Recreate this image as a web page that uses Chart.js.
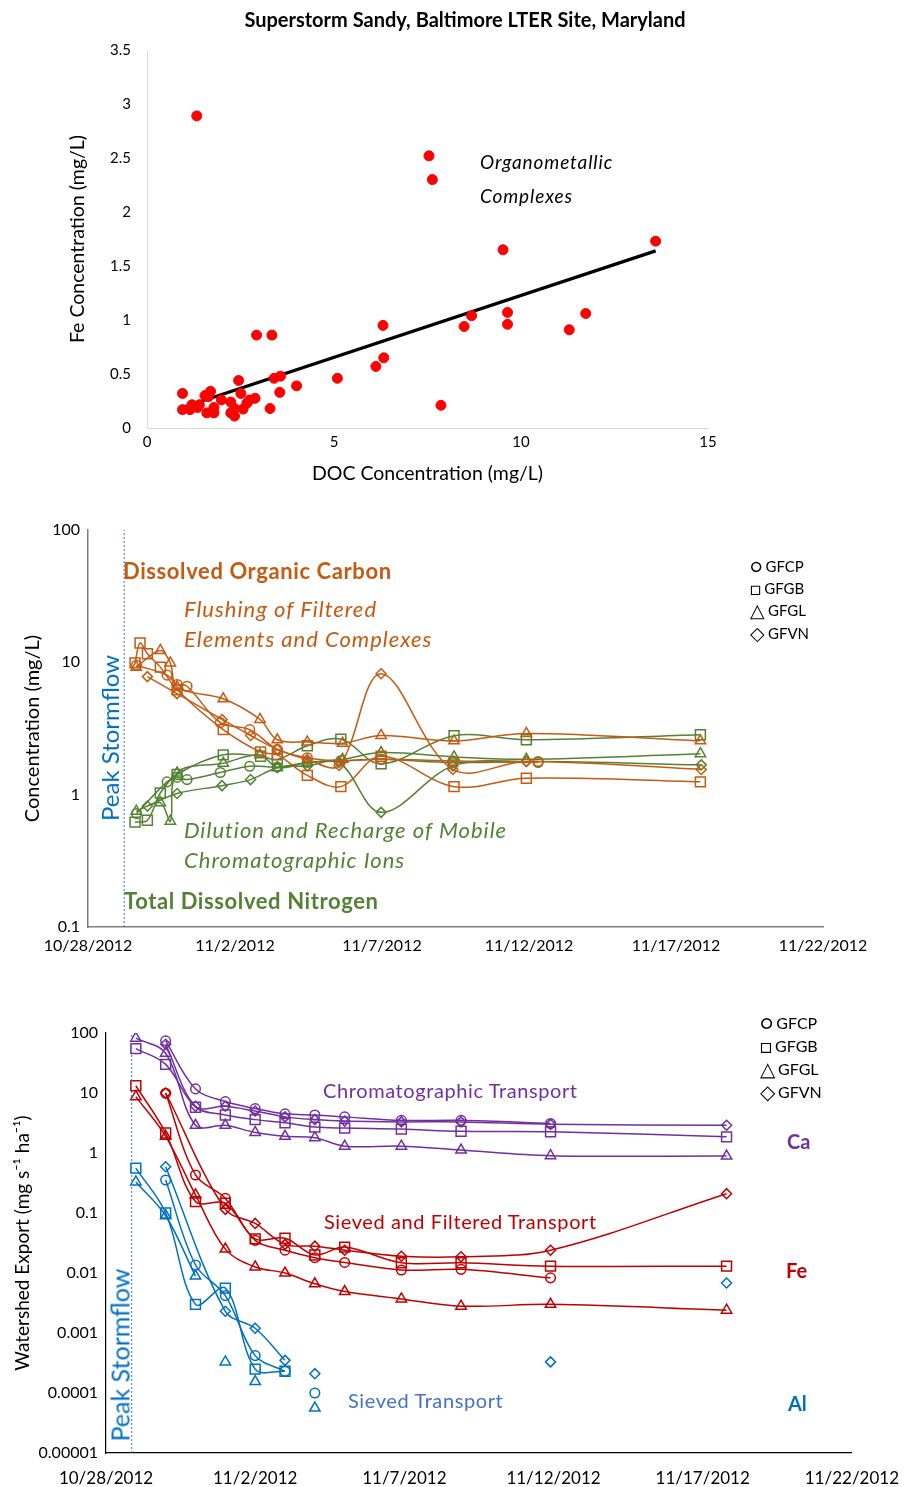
<!DOCTYPE html>
<html>
<head>
<meta charset="utf-8">
<title>Superstorm Sandy, Baltimore LTER Site</title>
<script src="https://cdn.jsdelivr.net/npm/chart.js@4.4.1/dist/chart.umd.min.js"></script>
<style>
  body { margin: 0; background: #fff; }
  #page { position: relative; width: 914px; height: 1487px; overflow: hidden; font-family: Lato, "Open Sans", sans-serif; }
  canvas { position: absolute; left: 0; }
  .title { position: absolute; left: 8px; width: 914px; top: 9px; text-align: center; font-size: 20px; font-weight: bold; line-height: 1; color: #000; }
  .note { position: absolute; white-space: nowrap; line-height: 1; }
  .it { font-style: italic; font-size: 22px; letter-spacing: 1px; }
  .bd { font-weight: bold; font-size: 22px; letter-spacing: 0.6px; }
  .tr { font-size: 20px; letter-spacing: 0.6px; }
  .rot { transform: translate(-50%, -50%) rotate(-90deg); }
  .lg { position: absolute; white-space: nowrap; line-height: 1; color: #000; }
  .lg span { font-size: 1.25em; vertical-align: -1px; margin-right: 3px; }
</style>
</head>
<body>
<div id="page">
  <canvas id="scatterChart" width="914" height="495" style="top:0"></canvas>
  <canvas id="concChart" width="914" height="475" style="top:495px"></canvas>
  <canvas id="exportChart" width="914" height="517" style="top:970px"></canvas>

  <div class="title">Superstorm Sandy, Baltimore LTER Site, Maryland</div>

  <!-- panel 1 notes -->
  <div class="note" style="left:480px;top:152px;font-size:19px;font-style:italic;letter-spacing:0.9px;color:#000">Organometallic</div>
  <div class="note" style="left:480px;top:186px;font-size:19px;font-style:italic;letter-spacing:0.9px;color:#000">Complexes</div>

  <!-- panel 2 notes -->
  <div class="note bd" style="left:123px;top:560px;color:#C55A11">Dissolved Organic Carbon</div>
  <div class="note it" style="left:184px;top:598px;color:#C55A11">Flushing of Filtered</div>
  <div class="note it" style="left:184px;top:628px;color:#C55A11">Elements and Complexes</div>
  <div class="note it" style="left:184px;top:819px;color:#548235">Dilution and Recharge of Mobile</div>
  <div class="note it" style="left:184px;top:849px;color:#548235">Chromatographic Ions</div>
  <div class="note bd" style="left:124px;top:890px;color:#548235">Total Dissolved Nitrogen</div>
  <div class="note rot" style="left:110px;top:738px;font-size:24px;color:#0070C0">Peak Stormflow</div>
  <div class="lg" style="left:750px;top:557px;font-size:15px"><span>○</span>GFCP</div>
  <div class="lg" style="left:750px;top:579px;font-size:15px"><span>□</span>GFGB</div>
  <div class="lg" style="left:750px;top:601px;font-size:15px"><span>△</span>GFGL</div>
  <div class="lg" style="left:750px;top:624px;font-size:15px"><span>◇</span>GFVN</div>

  <!-- panel 3 notes -->
  <div class="note tr" style="left:323px;top:1080px;color:#7030A0">Chromatographic Transport</div>
  <div class="note tr" style="left:324px;top:1211px;color:#C00000">Sieved and Filtered Transport</div>
  <div class="note tr" style="left:348px;top:1390px;color:#4472C4">Sieved Transport</div>
  <div class="note" style="left:787px;top:1131px;font-size:20px;font-weight:bold;color:#7030A0">Ca</div>
  <div class="note" style="left:786px;top:1260px;font-size:20px;font-weight:bold;color:#C00000">Fe</div>
  <div class="note" style="left:788px;top:1393px;font-size:20px;font-weight:bold;color:#0070C0">Al</div>
  <div class="note rot" style="left:120px;top:1355px;font-size:25px;color:#0070C0">Peak Stormflow</div>
  <div class="lg" style="left:760px;top:1012px;font-size:16px"><span>○</span>GFCP</div>
  <div class="lg" style="left:760px;top:1035px;font-size:16px"><span>□</span>GFGB</div>
  <div class="lg" style="left:760px;top:1058px;font-size:16px"><span>△</span>GFGL</div>
  <div class="lg" style="left:760px;top:1081px;font-size:16px"><span>◇</span>GFVN</div>
</div>

<script>
// ---- panel 1: Fe vs DOC ----
const docConc = [1.33, 7.54, 7.63, 13.6, 9.52, 9.64, 9.64, 8.68, 8.48, 11.73, 11.29, 6.31, 6.33, 6.12, 7.86, 5.09,
  2.93, 3.34, 3.40, 3.57, 4.0, 3.55, 3.29, 2.89, 2.45, 2.51, 0.95, 0.95, 1.70, 1.55, 1.99, 1.15, 1.35, 1.60,
  1.79, 1.79, 2.24, 2.24, 2.34, 2.34, 2.57, 2.67, 2.74, 1.2, 1.4, 1.64];
const feConc = [2.89, 2.52, 2.30, 1.73, 1.65, 1.07, 0.96, 1.04, 0.94, 1.06, 0.91, 0.95, 0.65, 0.57, 0.21, 0.46,
  0.86, 0.86, 0.46, 0.48, 0.39, 0.33, 0.18, 0.275, 0.44, 0.32, 0.32, 0.17, 0.34, 0.30, 0.26, 0.17, 0.19, 0.14,
  0.14, 0.19, 0.24, 0.14, 0.11, 0.18, 0.175, 0.23, 0.26, 0.215, 0.215, 0.29];
const trendX = [0.95, 13.6];
const trendY = [0.19, 1.64];

// ---- panel 2: concentrations (days after 10/28/2012) ----
const cpDays = [1.65, 2.69, 3.03, 3.37, 4.5, 5.5, 6.44, 7.46, 8.6, 9.97, 12.41, 15.31];
const cpDoc  = [9.5, 8.0, 6.8, 6.6, 3.5, 3.1, 2.2, 1.9, 1.8, 1.85, 1.8, 1.75];
const cpTdn  = [0.72, 1.25, 1.35, 1.3, 1.47, 1.64, 1.62, 1.75, 1.8, 1.85, 1.75, 1.78];

const gbDays = [1.6, 1.77, 2.02, 2.46, 3.03, 4.6, 5.87, 6.44, 7.46, 8.6, 9.97, 12.45, 14.91, 20.83];
const gbDoc  = [9.9, 14.0, 11.6, 9.2, 6.2, 3.1, 2.1, 2.0, 1.4, 1.15, 1.95, 1.15, 1.33, 1.25];
const gbTdn  = [0.62, null, 0.64, 1.03, 1.42, 2.0, 1.95, 1.85, 2.34, 2.63, 1.71, 2.79, 2.6, 2.84];

const glDays = [1.64, 2.46, 2.8, 3.03, 4.6, 5.85, 6.44, 7.46, 8.66, 9.97, 12.45, 14.91, 20.83];
const glDoc  = [9.2, 12.3, 9.9, 6.5, 5.3, 3.7, 2.6, 2.5, 2.45, 2.8, 2.55, 2.9, 2.55];
const glTdn  = [0.75, 0.87, 0.63, 1.46, 1.73, 2.0, 1.6, 1.75, 1.85, 2.08, 1.93, 1.85, 2.04];

const vnDays = [2.02, 3.03, 4.56, 5.53, 6.44, 7.46, 8.54, 9.97, 12.41, 14.91, 20.86];
const vnDoc  = [7.8, 5.8, 3.7, 2.8, 2.2, 1.84, 1.66, 8.2, 1.55, 1.78, 1.55];
const vnTdn  = [0.82, 1.02, 1.17, 1.3, 1.6, 1.65, 1.75, 0.735, 1.65, 1.78, 1.68];

const concPeakDay = 1.23;
const concTicks = [0.1, 1, 10, 100];

// ---- panel 3: watershed export ----
const exportDays = [1, 2, 3, 4, 5, 6, 7, 8, 9.9, 11.9, 14.9, 20.8];
const caCp = [null, 74, 11.7, 7.2, 5.5, 4.5, 4.3, 4.0, 3.5, 3.5, 3.1, null];
const caGb = [55, 30, 5.8, 4.3, 3.6, 3.2, 2.7, 2.6, 2.5, 2.3, 2.26, 1.86];
const caGl = [82, 46, 2.9, 2.9, 2.2, 1.9, 1.8, 1.3, 1.3, 1.12, 0.9, 0.89];
const caVn = [null, 65, 6.0, 6.0, 5.0, 4.0, 3.6, 3.4, 3.3, 3.3, 3.0, 2.9];

const feCp = [null, 9.9, 0.43, 0.175, 0.035, 0.024, 0.018, 0.015, 0.0112, 0.0115, 0.0083, null];
const feGb = [13.2, 2.15, 0.155, 0.145, 0.037, 0.038, 0.02, 0.027, 0.0148, 0.0148, 0.013, 0.013];
const feGl = [8.7, 1.9, 0.2, 0.025, 0.0126, 0.01, 0.0066, 0.0049, 0.0037, 0.0028, 0.003, 0.0024];
const feVn = [null, 10, null, 0.115, 0.067, 0.03, 0.028, 0.024, 0.019, 0.0186, 0.024, 0.21];

const alCp = [null, 0.355, 0.0136, 0.0042, 0.00042, 0.00023];
const alGb = [0.56, 0.1, 0.003, 0.0056, 0.00025, 0.00023];
const alGl = [0.33, 0.09, 0.0089];
const alVn = [null, 0.59, null, 0.0023, 0.0012, 0.00035];
// single samples with no connecting line
const alCpLoneDays = [7];          const alCpLone = [0.0001];
const alGlLoneDays = [4, 5, 7];    const alGlLone = [0.00033, 0.000155, 0.000056];
const alVnLoneDays = [7, 14.9, 20.8]; const alVnLone = [0.00021, 0.00033, 0.0068];

const exportPeakDay = 0.86;
const exportTicks = [0.00001, 0.0001, 0.001, 0.01, 0.1, 1, 10, 100];

// ---- helpers ----
Chart.defaults.font.family = 'Lato, "Open Sans", sans-serif';
Chart.defaults.color = '#000';
Chart.defaults.animation = false;

const BASE = Date.UTC(2012, 9, 28);
function dayLabel(v) {
    const d = new Date(BASE + v * 86400000);
    return (d.getUTCMonth() + 1) + '/' + d.getUTCDate() + '/' + d.getUTCFullYear();
}

function pts(xs, ys) {
    return xs.map((x, i) => ({ x: x, y: ys[i] === undefined ? null : ys[i] }));
}

const markerSize = { circle: 4.8, rect: 7, triangle: 6, rectRot: 5 };

function series(label, xs, ys, color, style, line) {
    return {
        label: label,
        data: pts(xs, ys),
        borderColor: color,
        backgroundColor: 'rgba(255,255,255,0)',
        pointStyle: style,
        pointRadius: markerSize[style],
        pointBorderWidth: 1.5,
        borderWidth: 1.5,
        tension: 0.35,
        showLine: line !== false,
        spanGaps: true
    };
}

function peakLine(day, lo, hi) {
    return {
        label: 'Peak Stormflow',
        data: [{ x: day, y: lo }, { x: day, y: hi }],
        borderColor: '#4472C4',
        borderWidth: 1,
        borderDash: [2, 2],
        pointRadius: 0,
        showLine: true
    };
}

// ---- chart 1 ----
new Chart(document.getElementById('scatterChart'), {
    type: 'scatter',
    data: {
        datasets: [
            {
                label: 'Fe vs DOC',
                data: pts(docConc, feConc),
                backgroundColor: '#FF0000',
                borderColor: '#FF0000',
                pointRadius: 5,
                pointHoverRadius: 5
            },
            {
                label: 'Linear fit',
                data: pts(trendX, trendY),
                borderColor: '#000',
                borderWidth: 3.2,
                pointRadius: 0,
                showLine: true
            }
        ]
    },
    options: {
        responsive: false,
        layout: { padding: { left: 0, right: 206, top: 50, bottom: 0 } },
        plugins: { legend: { display: false }, tooltip: { enabled: false } },
        scales: {
            x: {
                type: 'linear', min: 0, max: 15,
                ticks: { stepSize: 5, font: { size: 15 }, padding: 5, callback: v => String(v) },
                grid: { display: false, drawTicks: false },
                border: { display: true, color: '#d9d9d9', width: 1 },
                title: { display: true, text: 'DOC Concentration (mg/L)', font: { size: 19.5 }, padding: { top: 0, bottom: 10 } },
                afterFit: s => { s.height = 67; }
            },
            y: {
                type: 'linear', min: 0, max: 3.5,
                ticks: { stepSize: 0.5, font: { size: 15 }, padding: 16, callback: v => String(v) },
                grid: { display: false, drawTicks: false },
                border: { display: true, color: '#d9d9d9', width: 1 },
                title: { display: true, text: 'Fe Concentration (mg/L)', font: { size: 19.5 }, padding: { top: 66, bottom: 0 } },
                afterFit: s => { s.width = 147; }
            }
        }
    }
});

// ---- chart 2 ----
const DOC = '#C55A11';
const TDN = '#548235';

new Chart(document.getElementById('concChart'), {
    type: 'scatter',
    data: {
        datasets: [
            peakLine(concPeakDay, 0.1, 100),
            series('GFCP DOC', cpDays, cpDoc, DOC, 'circle'),
            series('GFGB DOC', gbDays, gbDoc, DOC, 'rect'),
            series('GFGL DOC', glDays, glDoc, DOC, 'triangle'),
            series('GFVN DOC', vnDays, vnDoc, DOC, 'rectRot'),
            series('GFCP TDN', cpDays, cpTdn, TDN, 'circle'),
            series('GFGB TDN', gbDays, gbTdn, TDN, 'rect'),
            series('GFGL TDN', glDays, glTdn, TDN, 'triangle'),
            series('GFVN TDN', vnDays, vnTdn, TDN, 'rectRot')
        ]
    },
    options: {
        responsive: false,
        layout: { padding: { left: 0, right: 91, top: 35, bottom: 0 } },
        plugins: { legend: { display: false }, tooltip: { enabled: false } },
        scales: {
            x: {
                type: 'linear', min: 0, max: 25,
                ticks: { stepSize: 5, font: { size: 16 }, padding: 9, callback: v => dayLabel(v) },
                grid: { display: false, drawTicks: false },
                border: { display: true, color: '#7f7f7f', width: 1.5 },
                afterFit: s => { s.height = 43; }
            },
            y: {
                type: 'logarithmic', min: 0.1, max: 100,
                afterBuildTicks: s => { s.ticks = concTicks.map(v => ({ value: v })); },
                ticks: { font: { size: 16 }, padding: 8, callback: v => String(v) },
                grid: { display: false, drawTicks: false },
                border: { display: true, color: '#7f7f7f', width: 1.5 },
                title: { display: true, text: 'Concentration (mg/L)', font: { size: 20 }, padding: { top: 21, bottom: 0 } },
                afterFit: s => { s.width = 88; }
            }
        }
    }
});

// ---- chart 3 ----
const CA = '#7030A0';
const FE = '#C00000';
const AL = '#0070C0';

new Chart(document.getElementById('exportChart'), {
    type: 'scatter',
    data: {
        datasets: [
            peakLine(exportPeakDay, 0.00001, 100),
            series('GFCP Ca', exportDays, caCp, CA, 'circle'),
            series('GFGB Ca', exportDays, caGb, CA, 'rect'),
            series('GFGL Ca', exportDays, caGl, CA, 'triangle'),
            series('GFVN Ca', exportDays, caVn, CA, 'rectRot'),
            series('GFCP Fe', exportDays, feCp, FE, 'circle'),
            series('GFGB Fe', exportDays, feGb, FE, 'rect'),
            series('GFGL Fe', exportDays, feGl, FE, 'triangle'),
            series('GFVN Fe', exportDays, feVn, FE, 'rectRot'),
            series('GFCP Al', exportDays.slice(0, alCp.length), alCp, AL, 'circle'),
            series('GFGB Al', exportDays.slice(0, alGb.length), alGb, AL, 'rect'),
            series('GFGL Al', exportDays.slice(0, alGl.length), alGl, AL, 'triangle'),
            series('GFVN Al', exportDays.slice(0, alVn.length), alVn, AL, 'rectRot'),
            series('GFCP Al single', alCpLoneDays, alCpLone, AL, 'circle', false),
            series('GFGL Al single', alGlLoneDays, alGlLone, AL, 'triangle', false),
            series('GFVN Al single', alVnLoneDays, alVnLone, AL, 'rectRot', false)
        ]
    },
    options: {
        responsive: false,
        layout: { padding: { left: 0, right: 48, top: 63, bottom: 0 } },
        plugins: { legend: { display: false }, tooltip: { enabled: false } },
        scales: {
            x: {
                type: 'linear', min: 0, max: 25,
                ticks: { stepSize: 5, font: { size: 17 }, padding: 15, callback: v => dayLabel(v) },
                grid: { display: false, drawTicks: false },
                border: { display: true, color: '#000', width: 1.2 },
                afterFit: s => { s.height = 34; }
            },
            y: {
                type: 'logarithmic', min: 0.00001, max: 100,
                afterBuildTicks: s => { s.ticks = exportTicks.map(v => ({ value: v })); },
                ticks: { font: { size: 16 }, padding: 8, callback: v => String(v) },
                grid: { display: false, drawTicks: false },
                border: { display: true, color: '#000', width: 1.2 },
                title: { display: true, text: 'Watershed Export (mg s\u207B\u00B9 ha\u207B\u00B9)', font: { size: 19 }, padding: { top: 11, bottom: 0 } },
                afterFit: s => { s.width = 106; }
            }
        }
    }
});
</script>
</body>
</html>
